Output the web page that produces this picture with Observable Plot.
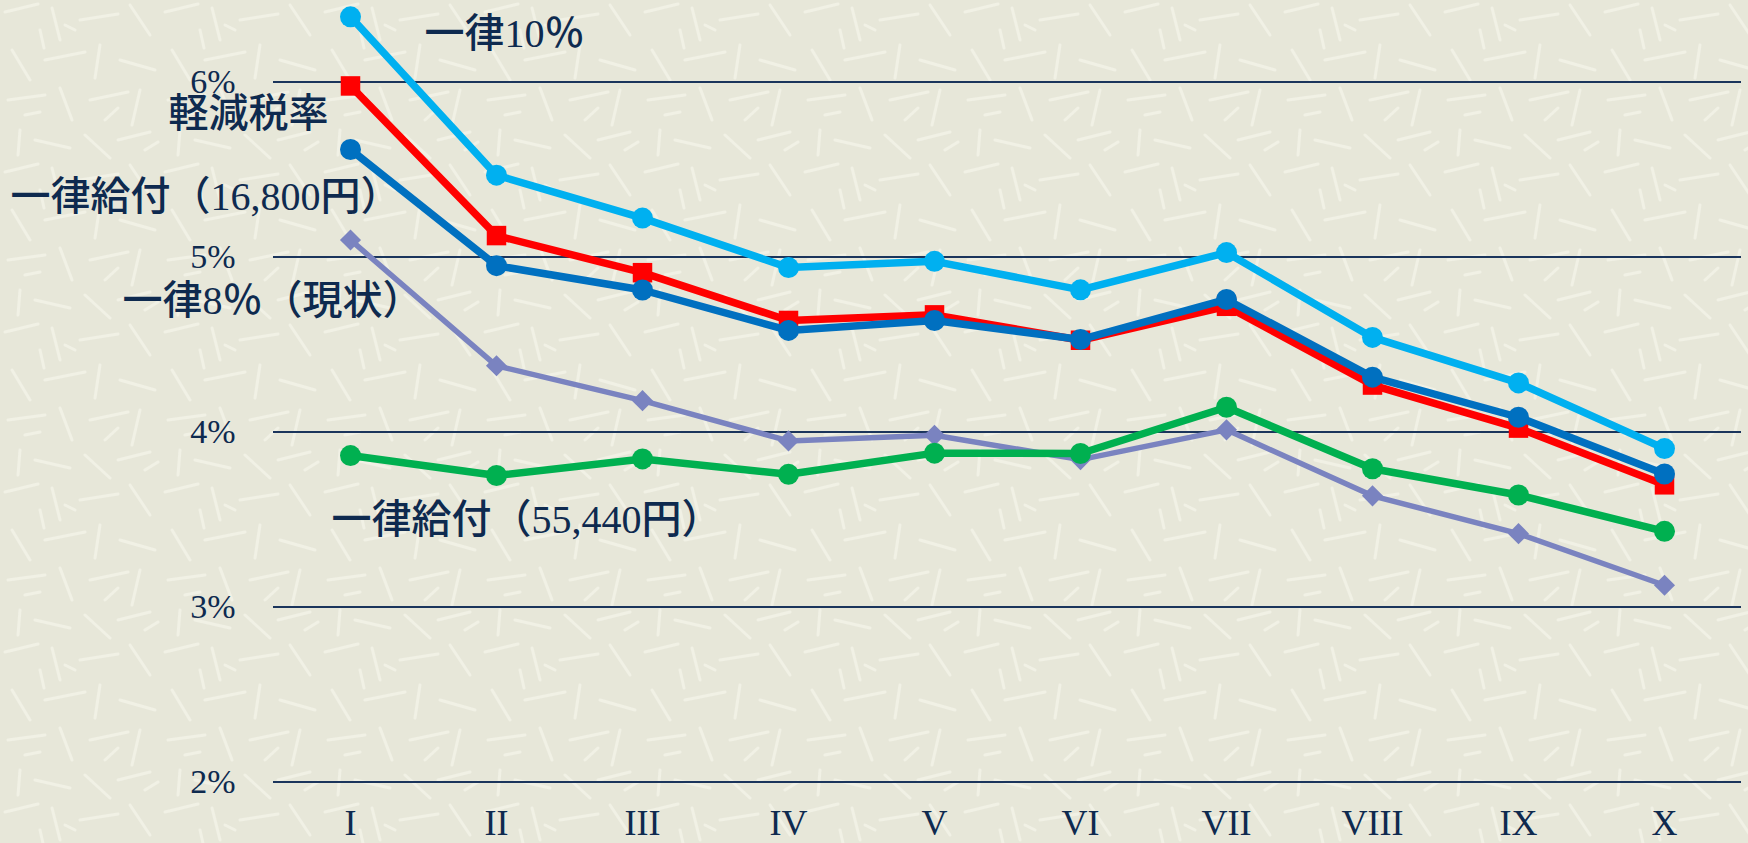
<!DOCTYPE html>
<html>
<head>
<meta charset="utf-8">
<script src="https://cdn.jsdelivr.net/npm/d3@7"></script>
<script src="https://cdn.jsdelivr.net/npm/@observablehq/plot@0.6"></script>
<style>
  html, body { margin: 0; padding: 0; }
  body {
    width: 1748px; height: 843px; overflow: hidden;
    background-color: #E7E7D9;
    background-image: url("data:image/svg+xml;utf8,<svg xmlns='http://www.w3.org/2000/svg' width='160' height='160'><g stroke='%23F4F4EA' stroke-width='3' stroke-linecap='round' opacity='0.75'><line x1='5' y1='12' x2='38' y2='4'/><line x1='52' y1='8' x2='60' y2='40'/><line x1='80' y1='20' x2='118' y2='14'/><line x1='130' y1='5' x2='150' y2='35'/><line x1='12' y1='50' x2='30' y2='80'/><line x1='45' y1='60' x2='85' y2='52'/><line x1='100' y1='45' x2='95' y2='78'/><line x1='120' y1='60' x2='155' y2='70'/><line x1='8' y1='100' x2='45' y2='95'/><line x1='60' y1='88' x2='72' y2='120'/><line x1='90' y1='100' x2='128' y2='92'/><line x1='140' y1='90' x2='132' y2='125'/><line x1='20' y1='130' x2='18' y2='155'/><line x1='35' y1='140' x2='70' y2='148'/><line x1='85' y1='135' x2='110' y2='158'/><line x1='118' y1='140' x2='150' y2='132'/><line x1='65' y1='25' x2='75' y2='30'/><line x1='25' y1='115' x2='40' y2='112'/><line x1='105' y1='120' x2='118' y2='108'/><line x1='40' y1='30' x2='44' y2='48'/><line x1='145' y1='150' x2='158' y2='142'/></g></svg>");
  }
  #chart svg { display: block; }
</style>
</head>
<body>
<div id="chart"></div>
<script>
// ---- data ----
const categories = ["I", "II", "III", "IV", "V", "VI", "VII", "VIII", "IX", "X"];
const uniform10 = [6.372, 5.467, 5.222, 4.939, 4.975, 4.812, 5.025, 4.540, 4.280, 3.905];
const reducedRate = [5.977, 5.122, 4.910, 4.637, 4.669, 4.524, 4.718, 4.268, 4.022, 3.698];
const benefit16800 = [5.614, 4.950, 4.811, 4.580, 4.637, 4.528, 4.757, 4.313, 4.084, 3.760];
const current8 = [5.097, 4.378, 4.179, 3.949, 3.981, 3.842, 4.012, 3.635, 3.419, 3.124];
const benefit55440 = [3.865, 3.751, 3.846, 3.758, 3.879, 3.877, 4.141, 3.790, 3.640, 3.432];
const yTicks = [2, 3, 4, 5, 6];
const seriesNames = ["一律10％", "軽減税率", "一律給付（16,800円）", "一律8％（現状）", "一律給付（55,440円）"];

const navy = "#0E2A4F";
const serif = "'Liberation Serif', 'Times New Roman', serif";
const labelFont = "'Liberation Serif', 'Noto Sans CJK JP', serif";

const rows = (vals) => categories.map((c, i) => ({cat: c, v: vals[i]}));

function series(vals, color, width, symbol, r) {
  const data = rows(vals);
  return [
    Plot.line(data, {x: "cat", y: "v", stroke: color, strokeWidth: width, strokeLinejoin: "round"}),
    Plot.dot(data, {x: "cat", y: "v", fill: color, stroke: "none", symbol, r})
  ];
}

function label(text, anchorCat, yVal, dx) {
  return Plot.text([text], {
    x: () => anchorCat, y: () => yVal, text: d => d,
    textAnchor: "start", dx, fontSize: 40, fontWeight: 500, fontFamily: labelFont, fill: navy
  });
}

const chart = Plot.plot({
  width: 1748,
  height: 843,
  marginLeft: 273,
  marginRight: 7,
  marginTop: 11.4,
  marginBottom: 61.5,
  style: {background: "transparent", overflow: "visible"},
  x: {type: "point", domain: categories, padding: 0.5, label: null},
  y: {domain: [2, 6.4], label: null},
  marks: [
    Plot.ruleY(yTicks, {stroke: "#1B355C", strokeWidth: 2}),
    Plot.axisY({ticks: yTicks, tickFormat: d => d + "%", tickSize: 0, tickPadding: 38,
      fontSize: 34, fontFamily: serif, fill: navy, label: null}),
    Plot.axisX({tickSize: 0, tickPadding: 27, fontSize: 36, fontFamily: serif, fill: navy, label: null}),
    ...series(current8, "#7A83C0", 5.5, "diamond2", 9.5),
    ...series(benefit55440, "#00B050", 7.5, "circle", 10.5),
    ...series(uniform10, "#00B0F0", 7.5, "circle", 10.5),
    ...series(reducedRate, "#FF0000", 7.5, "square", 11),
    ...series(benefit16800, "#0070C0", 7.5, "circle", 10.5),
    label(seriesNames[0], "I", 6.274, 74),
    label(seriesNames[1], "I", 5.815, -182),
    label(seriesNames[2], "I", 5.34, -340),
    label(seriesNames[3], "I", 4.745, -228),
    label(seriesNames[4], "I", 3.497, -19)
  ]
});
document.getElementById("chart").appendChild(chart);
</script>
</body>
</html>
